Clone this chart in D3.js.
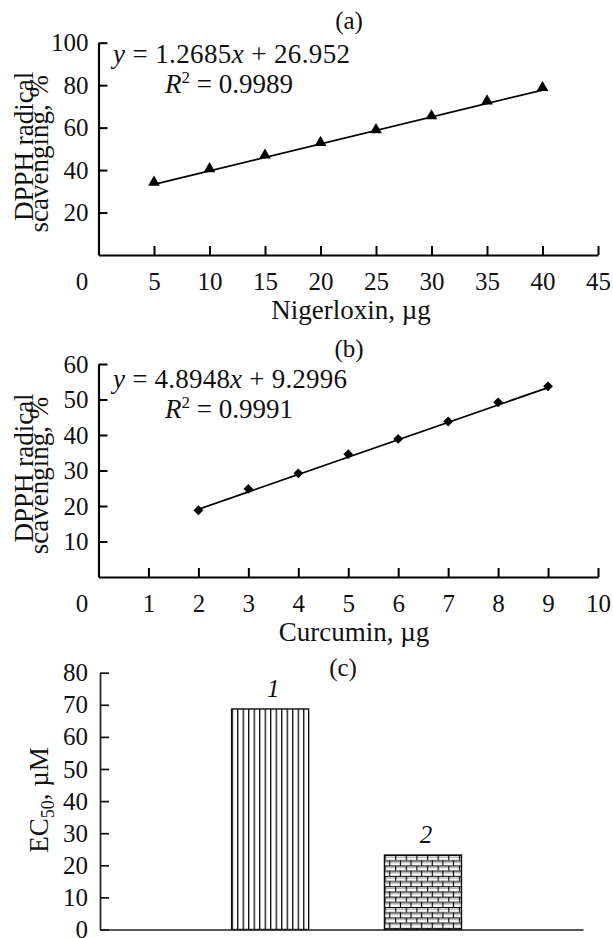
<!DOCTYPE html>
<html>
<head>
<meta charset="utf-8">
<script src="https://cdn.jsdelivr.net/npm/d3@7"></script>
<style>
  html, body { margin: 0; padding: 0; background: #fff; }
  svg { display: block; font-family: "Liberation Serif", "Times New Roman", serif; }
</style>
</head>
<body>
<svg id="chart" width="613" height="938"></svg>
<script>
// ---------- DATA ----------
// (a) Nigerloxin
const nigerDose = [5, 10, 15, 20, 25, 30, 35, 40];
const nigerScav = [34.2, 40.6, 47.0, 53.0, 59.0, 65.5, 72.5, 78.8];
const nigerFit = [1.2685, 26.952, 0.9989];      // slope, intercept, R^2
const nigerXTicks = [0, 5, 10, 15, 20, 25, 30, 35, 40, 45];
const nigerYTicks = [20, 40, 60, 80, 100];

// (b) Curcumin
const curcDose = [2, 3, 4, 5, 6, 7, 8, 9];
const curcScav = [18.8, 24.8, 29.2, 34.6, 38.9, 43.8, 49.2, 53.7];
const curcFit = [4.8948, 9.2996, 0.9991];
const curcXTicks = [0, 1, 2, 3, 4, 5, 6, 7, 8, 9, 10];
const curcYTicks = [10, 20, 30, 40, 50, 60];

// (c) EC50
const ecLabels = ["1", "2"];
const ecValues = [68.7, 23.2];
const ecYTicks = [0, 10, 20, 30, 40, 50, 60, 70, 80];

// ---------- DRAW ----------
const svg = d3.select("#chart");
const defs = svg.append("defs");
const FONT = "Liberation Serif, Times New Roman, serif";

function scatterPanel(cfg) {
  const x = d3.scaleLinear().domain(cfg.xDomain).range([98.5, 598]);
  const y = d3.scaleLinear().domain(cfg.yDomain).range(cfg.yRange);
  const g = svg.append("g");

  const xAxis = d3.axisBottom(x).tickValues(cfg.xTicks).tickSizeInner(-9).tickSizeOuter(0).tickPadding(17)
    .tickFormat(d3.format("d"));
  const xg = g.append("g").attr("transform", `translate(0,${cfg.yRange[0]})`).call(xAxis);
  const yAxis = d3.axisLeft(y).tickValues(cfg.yTicks).tickSizeInner(-9).tickSizeOuter(0).tickPadding(10)
    .tickFormat(d3.format("d"));
  const yg = g.append("g").attr("transform", `translate(98.5,0)`).call(yAxis);

  [xg, yg].forEach(a => {
    a.attr("font-family", FONT);
    a.select(".domain").attr("stroke", "#000").attr("stroke-width", 2.2);
    a.selectAll(".tick line").attr("stroke", "#000").attr("stroke-width", 2);
    a.selectAll(".tick text").attr("font-size", 25).attr("fill", "#111").attr("font-family", FONT);
  });
  // the "0" label of x axis sits left of the y axis
  xg.selectAll(".tick").filter(d => d === 0).select("text").attr("dx", -17);
  xg.selectAll(".tick").filter(d => d === 0).select("line").remove();

  // trend line
  const fit = cfg.fit;
  const xs = [cfg.xs[0], cfg.xs[cfg.xs.length - 1]];
  g.append("path")
    .datum(xs)
    .attr("fill", "none").attr("stroke", "#000").attr("stroke-width", 1.8)
    .attr("d", d3.line().x(d => x(d)).y(d => y(fit[0] * d + fit[1])));

  // markers
  g.selectAll(".pt").data(cfg.xs.map((d, i) => [d, cfg.ys[i]])).enter().append("path")
    .attr("d", d3.symbol(cfg.symbol, cfg.symbolSize)())
    .attr("transform", d => `translate(${x(d[0])},${y(d[1])}) rotate(${cfg.rotate})`)
    .attr("fill", "#000");

  // equation
  const eq = g.append("text").attr("x", 113).attr("y", cfg.eqY).attr("font-size", 27).attr("fill", "#111")
    .attr("textLength", cfg.eqLen).attr("lengthAdjust", "spacing");
  eq.append("tspan").attr("font-style", "italic").text("y");
  eq.append("tspan").text(" = " + fit[0]);
  eq.append("tspan").attr("font-style", "italic").text("x");
  eq.append("tspan").text(" + " + fit[1]);

  const r2 = g.append("text").attr("x", 165).attr("y", cfg.eqY + 30).attr("font-size", 27).attr("fill", "#111");
  r2.append("tspan").attr("font-style", "italic").text("R");
  r2.append("tspan").attr("font-size", 17).attr("dy", -10).text("2");
  r2.append("tspan").attr("dy", 10).text(" = " + fit[2]);

  // title
  g.append("text").attr("x", 349).attr("y", cfg.titleY).attr("text-anchor", "middle")
    .attr("font-size", 25).attr("fill", "#111").text(cfg.title);

  // x label
  g.append("text").attr("x", cfg.xLabelX).attr("y", cfg.xLabelY).attr("text-anchor", "middle")
    .attr("font-size", 27).attr("fill", "#111").text(cfg.xLabel);

  // y label (two lines)
  const yc = (cfg.yRange[0] + cfg.yRange[1]) / 2;
  g.append("text").attr("transform", `translate(33,${yc - 2.5}) rotate(-90)`).attr("text-anchor", "middle")
    .attr("font-size", 27).attr("fill", "#111").text("DPPH radical");
  g.append("text").attr("transform", `translate(48,${yc + 5}) rotate(-90)`).attr("text-anchor", "middle")
    .attr("font-size", 27).attr("fill", "#111").text("scavenging, %");
}

scatterPanel({
  xDomain: [0, 45], yDomain: [0, 100], yRange: [255, 42.7],
  xTicks: nigerXTicks, yTicks: nigerYTicks,
  xs: nigerDose, ys: nigerScav, fit: nigerFit,
  symbol: d3.symbolTriangle, symbolSize: 60, rotate: 0,
  eqY: 63, eqLen: 237, title: "(a)", titleY: 29,
  xLabel: "Nigerloxin, \u00b5g", xLabelX: 351, xLabelY: 319
});

scatterPanel({
  xDomain: [0, 10], yDomain: [0, 60], yRange: [577, 364],
  xTicks: curcXTicks, yTicks: curcYTicks,
  xs: curcDose, ys: curcScav, fit: curcFit,
  symbol: d3.symbolSquare, symbolSize: 48, rotate: 45,
  eqY: 388, eqLen: 234, title: "(b)", titleY: 357,
  xLabel: "Curcumin, \u00b5g", xLabelX: 354, xLabelY: 641
});

// ---------- (c) bar chart ----------
const xb = d3.scaleBand().domain(ecLabels).range([100, 583])
  .paddingInner(0.496).paddingOuter(0.828).align(0.52);
const yb = d3.scaleLinear().domain([0, 80]).range([929.5, 672.7]);
const gc = svg.append("g");

// patterns
const bw = xb.bandwidth();
const p1 = defs.append("pattern").attr("id", "vstripes").attr("patternUnits", "userSpaceOnUse")
  .attr("x", xb("1")).attr("y", 0).attr("width", bw / 14).attr("height", 10);
p1.append("rect").attr("width", bw / 14).attr("height", 10).attr("fill", "#fff");
p1.append("line").attr("x1", 0.6).attr("x2", 0.6).attr("y1", 0).attr("y2", 10)
  .attr("stroke", "#000").attr("stroke-width", 1.3);

const bwid = bw / 7.25, bh = 5.2;
const p2 = defs.append("pattern").attr("id", "bricks").attr("patternUnits", "userSpaceOnUse")
  .attr("x", xb("2")).attr("y", yb(ecValues[1])).attr("width", bwid).attr("height", bh * 2);
p2.append("rect").attr("width", bwid).attr("height", bh * 2).attr("fill", "#fff");
p2.append("line").attr("x1", 0).attr("x2", bwid).attr("y1", 0.5).attr("y2", 0.5).attr("stroke", "#000").attr("stroke-width", 1);
p2.append("line").attr("x1", 0).attr("x2", bwid).attr("y1", 2.2).attr("y2", 2.2).attr("stroke", "#aaa").attr("stroke-width", 1.2);
p2.append("line").attr("x1", 0).attr("x2", bwid).attr("y1", bh + 0.5).attr("y2", bh + 0.5).attr("stroke", "#000").attr("stroke-width", 1);
p2.append("line").attr("x1", 0).attr("x2", bwid).attr("y1", bh + 2.2).attr("y2", bh + 2.2).attr("stroke", "#aaa").attr("stroke-width", 1.2);
p2.append("line").attr("x1", 0.6).attr("x2", 0.6).attr("y1", 0).attr("y2", bh).attr("stroke", "#000").attr("stroke-width", 1.1);
p2.append("line").attr("x1", bwid / 2).attr("x2", bwid / 2).attr("y1", bh).attr("y2", bh * 2).attr("stroke", "#000").attr("stroke-width", 1.1);

const fills = { "1": "url(#vstripes)", "2": "url(#bricks)" };
gc.selectAll(".bar").data(ecLabels.map((l, i) => ({ l, v: ecValues[i] }))).enter().append("rect")
  .attr("x", d => xb(d.l)).attr("width", bw)
  .attr("y", d => yb(d.v)).attr("height", d => yb(0) - yb(d.v))
  .attr("fill", d => fills[d.l]).attr("stroke", "#111").attr("stroke-width", 1.4);

gc.selectAll(".blabel").data(ecLabels.map((l, i) => ({ l, v: ecValues[i] }))).enter().append("text")
  .attr("x", d => xb(d.l) + bw / 2 + 3).attr("y", d => yb(d.v) - 12)
  .attr("text-anchor", "middle").attr("font-size", 25).attr("font-style", "italic").attr("fill", "#111")
  .text(d => d.l);

const ycAxis = d3.axisLeft(yb).tickValues(ecYTicks).tickSizeInner(-9).tickSizeOuter(0).tickPadding(12)
  .tickFormat(d3.format("d"));
const ycg = gc.append("g").attr("transform", "translate(100,0)").call(ycAxis);
const xcAxis = d3.axisBottom(xb).tickValues([]).tickSizeOuter(0);
const xcg = gc.append("g").attr("transform", `translate(0,${yb(0)})`).call(xcAxis);
[ycg, xcg].forEach(a => {
  a.attr("font-family", FONT);
  a.select(".domain").attr("stroke", "#222").attr("stroke-width", 1.7);
  a.selectAll(".tick line").attr("stroke", "#111").attr("stroke-width", 1.7);
  a.selectAll(".tick text").attr("font-size", 25).attr("fill", "#111").attr("font-family", FONT);
});

gc.append("text").attr("x", 343).attr("y", 676).attr("text-anchor", "middle")
  .attr("font-size", 25).attr("fill", "#111").text("(c)");

const ecl = gc.append("text").attr("transform", "translate(48,800) rotate(-90)").attr("text-anchor", "middle")
  .attr("font-size", 27).attr("fill", "#111");
ecl.append("tspan").text("EC");
ecl.append("tspan").attr("font-size", 18).attr("dy", 6).text("50");
ecl.append("tspan").attr("dy", -6).text(", \u00b5M");
</script>
</body>
</html>
